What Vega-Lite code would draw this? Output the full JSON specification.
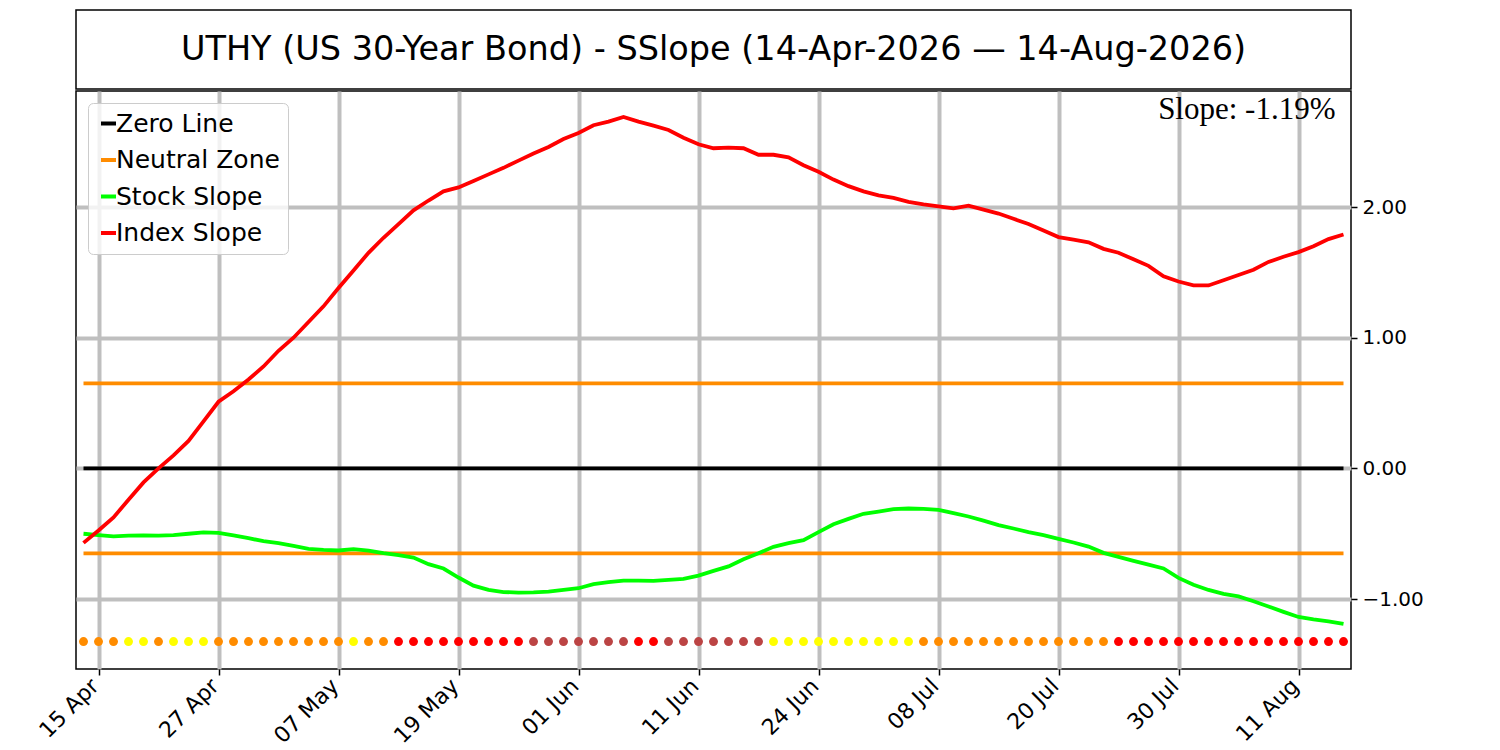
{
  "$schema": "https://vega.github.io/schema/vega-lite/v6.json",
  "padding": {"left": 34, "top": 9, "right": 5, "bottom": 5},
  "spacing": 0,
  "resolve": {"scale": {"color": "independent", "fill": "independent"}, "legend": {"color": "independent", "fill": "independent"}},
  "datasets": {
    "days": [
      {"date": "2026-04-14", "Stock Slope": -0.50, "Index Slope": -0.57, "state": "neutral"},
      {"date": "2026-04-15", "Stock Slope": -0.51, "Index Slope": -0.475, "state": "neutral"},
      {"date": "2026-04-16", "Stock Slope": -0.52, "Index Slope": -0.375, "state": "neutral"},
      {"date": "2026-04-17", "Stock Slope": -0.515, "Index Slope": -0.24, "state": "weak"},
      {"date": "2026-04-20", "Stock Slope": -0.513, "Index Slope": -0.107, "state": "weak"},
      {"date": "2026-04-21", "Stock Slope": -0.515, "Index Slope": 0.0, "state": "neutral"},
      {"date": "2026-04-22", "Stock Slope": -0.51, "Index Slope": 0.10, "state": "weak"},
      {"date": "2026-04-23", "Stock Slope": -0.50, "Index Slope": 0.21, "state": "weak"},
      {"date": "2026-04-24", "Stock Slope": -0.49, "Index Slope": 0.36, "state": "weak"},
      {"date": "2026-04-27", "Stock Slope": -0.493, "Index Slope": 0.51, "state": "neutral"},
      {"date": "2026-04-28", "Stock Slope": -0.513, "Index Slope": 0.59, "state": "neutral"},
      {"date": "2026-04-29", "Stock Slope": -0.534, "Index Slope": 0.68, "state": "neutral"},
      {"date": "2026-04-30", "Stock Slope": -0.557, "Index Slope": 0.78, "state": "neutral"},
      {"date": "2026-05-01", "Stock Slope": -0.572, "Index Slope": 0.90, "state": "neutral"},
      {"date": "2026-05-04", "Stock Slope": -0.593, "Index Slope": 1.00, "state": "neutral"},
      {"date": "2026-05-05", "Stock Slope": -0.615, "Index Slope": 1.12, "state": "neutral"},
      {"date": "2026-05-06", "Stock Slope": -0.623, "Index Slope": 1.24, "state": "neutral"},
      {"date": "2026-05-07", "Stock Slope": -0.628, "Index Slope": 1.38, "state": "neutral"},
      {"date": "2026-05-08", "Stock Slope": -0.618, "Index Slope": 1.515, "state": "weak"},
      {"date": "2026-05-11", "Stock Slope": -0.63, "Index Slope": 1.65, "state": "neutral"},
      {"date": "2026-05-12", "Stock Slope": -0.649, "Index Slope": 1.765, "state": "neutral"},
      {"date": "2026-05-13", "Stock Slope": -0.664, "Index Slope": 1.87, "state": "strong"},
      {"date": "2026-05-14", "Stock Slope": -0.682, "Index Slope": 1.975, "state": "strong"},
      {"date": "2026-05-15", "Stock Slope": -0.733, "Index Slope": 2.05, "state": "strong"},
      {"date": "2026-05-18", "Stock Slope": -0.766, "Index Slope": 2.12, "state": "strong"},
      {"date": "2026-05-19", "Stock Slope": -0.835, "Index Slope": 2.15, "state": "strong"},
      {"date": "2026-05-20", "Stock Slope": -0.897, "Index Slope": 2.20, "state": "strong"},
      {"date": "2026-05-21", "Stock Slope": -0.93, "Index Slope": 2.25, "state": "strong"},
      {"date": "2026-05-22", "Stock Slope": -0.946, "Index Slope": 2.30, "state": "strong"},
      {"date": "2026-05-26", "Stock Slope": -0.95, "Index Slope": 2.355, "state": "strong"},
      {"date": "2026-05-27", "Stock Slope": -0.948, "Index Slope": 2.41, "state": "extreme"},
      {"date": "2026-05-28", "Stock Slope": -0.943, "Index Slope": 2.46, "state": "extreme"},
      {"date": "2026-05-29", "Stock Slope": -0.93, "Index Slope": 2.52, "state": "extreme"},
      {"date": "2026-06-01", "Stock Slope": -0.917, "Index Slope": 2.567, "state": "extreme"},
      {"date": "2026-06-02", "Stock Slope": -0.886, "Index Slope": 2.626, "state": "extreme"},
      {"date": "2026-06-03", "Stock Slope": -0.871, "Index Slope": 2.654, "state": "extreme"},
      {"date": "2026-06-04", "Stock Slope": -0.858, "Index Slope": 2.69, "state": "extreme"},
      {"date": "2026-06-05", "Stock Slope": -0.858, "Index Slope": 2.654, "state": "strong"},
      {"date": "2026-06-08", "Stock Slope": -0.86, "Index Slope": 2.623, "state": "strong"},
      {"date": "2026-06-09", "Stock Slope": -0.853, "Index Slope": 2.59, "state": "extreme"},
      {"date": "2026-06-10", "Stock Slope": -0.845, "Index Slope": 2.53, "state": "extreme"},
      {"date": "2026-06-11", "Stock Slope": -0.82, "Index Slope": 2.48, "state": "extreme"},
      {"date": "2026-06-12", "Stock Slope": -0.784, "Index Slope": 2.45, "state": "extreme"},
      {"date": "2026-06-15", "Stock Slope": -0.75, "Index Slope": 2.455, "state": "extreme"},
      {"date": "2026-06-16", "Stock Slope": -0.695, "Index Slope": 2.45, "state": "extreme"},
      {"date": "2026-06-17", "Stock Slope": -0.649, "Index Slope": 2.40, "state": "extreme"},
      {"date": "2026-06-18", "Stock Slope": -0.60, "Index Slope": 2.40, "state": "weak"},
      {"date": "2026-06-22", "Stock Slope": -0.572, "Index Slope": 2.38, "state": "weak"},
      {"date": "2026-06-23", "Stock Slope": -0.549, "Index Slope": 2.32, "state": "weak"},
      {"date": "2026-06-24", "Stock Slope": -0.488, "Index Slope": 2.27, "state": "weak"},
      {"date": "2026-06-25", "Stock Slope": -0.427, "Index Slope": 2.21, "state": "weak"},
      {"date": "2026-06-26", "Stock Slope": -0.386, "Index Slope": 2.16, "state": "weak"},
      {"date": "2026-06-29", "Stock Slope": -0.347, "Index Slope": 2.12, "state": "weak"},
      {"date": "2026-06-30", "Stock Slope": -0.33, "Index Slope": 2.09, "state": "weak"},
      {"date": "2026-07-01", "Stock Slope": -0.312, "Index Slope": 2.07, "state": "weak"},
      {"date": "2026-07-06", "Stock Slope": -0.307, "Index Slope": 2.04, "state": "weak"},
      {"date": "2026-07-07", "Stock Slope": -0.309, "Index Slope": 2.02, "state": "neutral"},
      {"date": "2026-07-08", "Stock Slope": -0.317, "Index Slope": 2.005, "state": "neutral"},
      {"date": "2026-07-09", "Stock Slope": -0.342, "Index Slope": 1.99, "state": "neutral"},
      {"date": "2026-07-10", "Stock Slope": -0.368, "Index Slope": 2.01, "state": "neutral"},
      {"date": "2026-07-13", "Stock Slope": -0.40, "Index Slope": 1.98, "state": "neutral"},
      {"date": "2026-07-14", "Stock Slope": -0.434, "Index Slope": 1.95, "state": "neutral"},
      {"date": "2026-07-15", "Stock Slope": -0.46, "Index Slope": 1.91, "state": "neutral"},
      {"date": "2026-07-16", "Stock Slope": -0.488, "Index Slope": 1.87, "state": "neutral"},
      {"date": "2026-07-17", "Stock Slope": -0.51, "Index Slope": 1.82, "state": "neutral"},
      {"date": "2026-07-20", "Stock Slope": -0.539, "Index Slope": 1.77, "state": "neutral"},
      {"date": "2026-07-21", "Stock Slope": -0.567, "Index Slope": 1.75, "state": "neutral"},
      {"date": "2026-07-22", "Stock Slope": -0.598, "Index Slope": 1.73, "state": "neutral"},
      {"date": "2026-07-23", "Stock Slope": -0.646, "Index Slope": 1.68, "state": "neutral"},
      {"date": "2026-07-24", "Stock Slope": -0.677, "Index Slope": 1.65, "state": "strong"},
      {"date": "2026-07-27", "Stock Slope": -0.707, "Index Slope": 1.60, "state": "strong"},
      {"date": "2026-07-28", "Stock Slope": -0.736, "Index Slope": 1.55, "state": "strong"},
      {"date": "2026-07-29", "Stock Slope": -0.766, "Index Slope": 1.47, "state": "strong"},
      {"date": "2026-07-30", "Stock Slope": -0.838, "Index Slope": 1.43, "state": "strong"},
      {"date": "2026-07-31", "Stock Slope": -0.89, "Index Slope": 1.40, "state": "strong"},
      {"date": "2026-08-03", "Stock Slope": -0.93, "Index Slope": 1.40, "state": "strong"},
      {"date": "2026-08-04", "Stock Slope": -0.96, "Index Slope": 1.44, "state": "strong"},
      {"date": "2026-08-05", "Stock Slope": -0.98, "Index Slope": 1.48, "state": "strong"},
      {"date": "2026-08-06", "Stock Slope": -1.017, "Index Slope": 1.52, "state": "strong"},
      {"date": "2026-08-07", "Stock Slope": -1.057, "Index Slope": 1.58, "state": "strong"},
      {"date": "2026-08-10", "Stock Slope": -1.098, "Index Slope": 1.62, "state": "strong"},
      {"date": "2026-08-11", "Stock Slope": -1.137, "Index Slope": 1.655, "state": "strong"},
      {"date": "2026-08-12", "Stock Slope": -1.155, "Index Slope": 1.70, "state": "strong"},
      {"date": "2026-08-13", "Stock Slope": -1.17, "Index Slope": 1.755, "state": "strong"},
      {"date": "2026-08-14", "Stock Slope": -1.19, "Index Slope": 1.79, "state": "strong"}
    ],
    "refs": [
      {"date": "2026-04-14", "level": 0, "series": "Zero Line", "line": "zero"},
      {"date": "2026-08-14", "level": 0, "series": "Zero Line", "line": "zero"},
      {"date": "2026-04-14", "level": 0.65, "series": "Neutral Zone", "line": "upper"},
      {"date": "2026-08-14", "level": 0.65, "series": "Neutral Zone", "line": "upper"},
      {"date": "2026-04-14", "level": -0.65, "series": "Neutral Zone", "line": "lower"},
      {"date": "2026-08-14", "level": -0.65, "series": "Neutral Zone", "line": "lower"}
    ]
  },
  "vconcat": [
    {
      "width": 1275,
      "height": 79,
      "view": {"stroke": "black", "strokeWidth": 1.5},
      "data": {"values": [{"title": "UTHY (US 30-Year Bond) - SSlope (14-Apr-2026 — 14-Aug-2026)"}]},
      "mark": {"type": "text", "fontSize": 33.5, "color": "black"},
      "encoding": {"text": {"field": "title"}}
    },
    {
      "width": 1275,
      "height": 578,
      "data": {"name": "days"},
      "encoding": {
        "x": {
          "field": "date",
          "type": "ordinal",
          "scale": {"type": "point", "padding": 0.5},
          "axis": {
            "title": null,
            "values": ["2026-04-15", "2026-04-27", "2026-05-07", "2026-05-19", "2026-06-01", "2026-06-11", "2026-06-24", "2026-07-08", "2026-07-20", "2026-07-30", "2026-08-11"],
            "labelExpr": "slice(datum.value, 8, 10) + ' ' + ['Apr','May','Jun','Jul','Aug'][toNumber(slice(datum.value, 5, 7)) - 4]",
            "labelAngle": -45,
            "labelAlign": "right",
            "labelBaseline": "top",
            "labelFontSize": 22,
            "labelPadding": 0,
            "labelOffset": -11
          }
        }
      },
      "layer": [
        {
          "data": {"name": "refs"},
          "mark": {"type": "line", "strokeWidth": 3.8},
          "encoding": {
            "y": {"field": "level", "type": "quantitative", "title": null,
                  "scale": {"domain": [-1.535, 2.888], "nice": false, "zero": false},
                  "axis": {"orient": "right", "values": [-1, 0, 1, 2], "format": ".2f"}},
            "color": {"field": "series", "type": "nominal", "title": null,
                      "scale": {"domain": ["Zero Line", "Neutral Zone", "Stock Slope", "Index Slope"],
                                "range": ["#000000", "#ff8c00", "#00ff00", "#ff0000"]}},
            "detail": {"field": "line"}
          }
        },
        {
          "mark": {"type": "line", "strokeWidth": 3.8},
          "encoding": {
            "y": {"field": "Stock Slope", "type": "quantitative", "title": null,
                  "scale": {"domain": [-1.535, 2.888], "nice": false, "zero": false},
                  "axis": {"orient": "right", "values": [-1, 0, 1, 2], "format": ".2f"}},
            "color": {"datum": "Stock Slope", "type": "nominal", "title": null}
          }
        },
        {
          "mark": {"type": "line", "strokeWidth": 3.8},
          "encoding": {
            "y": {"field": "Index Slope", "type": "quantitative", "title": null,
                  "scale": {"domain": [-1.535, 2.888], "nice": false, "zero": false},
                  "axis": {"orient": "right", "values": [-1, 0, 1, 2], "format": ".2f"}},
            "color": {"datum": "Index Slope", "type": "nominal", "title": null}
          }
        },
        {
          "mark": {"type": "point", "filled": true, "size": 80, "opacity": 1, "strokeWidth": 0},
          "encoding": {
            "y": {"datum": -1.325, "type": "quantitative", "title": null,
                  "scale": {"domain": [-1.535, 2.888], "nice": false, "zero": false},
                  "axis": {"orient": "right", "values": [-1, 0, 1, 2], "format": ".2f"}},
            "fill": {"field": "state", "type": "nominal", "legend": null,
                     "scale": {"domain": ["neutral", "weak", "strong", "extreme"],
                               "range": ["#ff8c00", "#ffff00", "#ff0000", "#bb4444"]}}
          }
        },
        {
          "data": {"values": [{"date": "2026-08-14", "note": "Slope: -1.19%"}]},
          "mark": {"type": "text", "font": "Liberation Serif", "fontSize": 31, "align": "right", "baseline": "alphabetic", "dx": -8, "dy": 28, "color": "black"},
          "encoding": {
            "y": {"datum": 2.888, "type": "quantitative", "title": null,
                  "scale": {"domain": [-1.535, 2.888], "nice": false, "zero": false},
                  "axis": {"orient": "right", "values": [-1, 0, 1, 2], "format": ".2f"}},
            "text": {"field": "note"}
          }
        }
      ]
    }
  ],
  "config": {
    "font": "DejaVu Sans",
    "view": {"stroke": "black", "strokeWidth": 1.5},
    "axis": {
      "domain": false,
      "grid": true,
      "gridColor": "#bfbfbf",
      "gridWidth": 4,
      "gridOpacity": 1,
      "tickColor": "black",
      "tickSize": 6,
      "tickWidth": 1.5,
      "labelColor": "black",
      "labelFontSize": 20,
      "labelPadding": 5
    },
    "legend": {
      "orient": "top-left",
      "offset": 12,
      "padding": 8,
      "fillColor": "rgba(255,255,255,0.8)",
      "strokeColor": "#cccccc",
      "cornerRadius": 5,
      "symbolType": "stroke",
      "symbolSize": 225,
      "symbolStrokeWidth": 4,
      "labelFontSize": 25,
      "labelColor": "black",
      "labelOffset": -5,
      "labelLimit": 400,
      "rowPadding": 10.5
    }
  }
}
